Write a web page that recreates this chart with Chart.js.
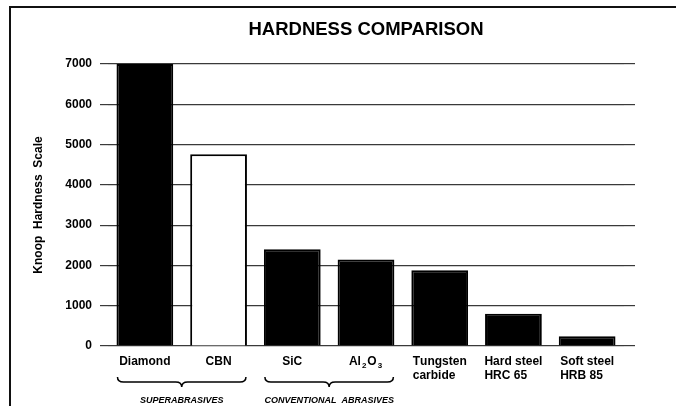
<!DOCTYPE html>
<html>
<head>
<meta charset="utf-8">
<script src="https://cdn.jsdelivr.net/npm/chart.js@4.4.1/dist/chart.umd.min.js"></script>
<style>
  html, body { margin: 0; padding: 0; background: #fff; }
  #wrap { width: 676px; height: 406px; }
</style>
</head>
<body>
<div id="wrap"><canvas id="c" width="676" height="406"></canvas></div>
<script>
// Knoop hardness of abrasives and tool materials
const categories = [
  ['Diamond'],
  ['CBN'],
  ['SiC'],
  ['Al₂O₃'],
  ['Tungsten', 'carbide'],
  ['Hard steel', 'HRC 65'],
  ['Soft steel', 'HRB 85']
];
const hardness = [7000, 4760, 2400, 2150, 1880, 800, 240];
const yTicks = [0, 1000, 2000, 3000, 4000, 5000, 6000, 7000];
const groupNames = ['SUPERABRASIVES', 'CONVENTIONAL  ABRASIVES'];
const groupMembers = [[0, 1], [2, 3]];

const FONT = "'Liberation Sans', Arial, Helvetica, sans-serif";
const GRID = '#3a3a3a';
const SUB = { '₀':'0','₁':'1','₂':'2','₃':'3','₄':'4','₅':'5','₆':'6','₇':'7','₈':'8','₉':'9' };

// Text with subscript digits drawn smaller and lowered
function richWidth(ctx, s) {
  let w = 0;
  for (const ch of s) {
    ctx.font = SUB[ch] ? `bold 8px ${FONT}` : `bold 12px ${FONT}`;
    w += ctx.measureText(SUB[ch] || ch).width + (SUB[ch] ? 2 : 0);
  }
  return w;
}
function drawRich(ctx, s, x, y) {
  for (const ch of s) {
    if (SUB[ch]) {
      ctx.font = `bold 8px ${FONT}`;
      x += 1;
      ctx.fillText(SUB[ch], x, y + 4);
      x += ctx.measureText(SUB[ch]).width + 1;
    } else {
      ctx.font = `bold 12px ${FONT}`;
      ctx.fillText(ch, x, y);
      x += ctx.measureText(ch).width;
    }
  }
}

const framePlugin = {
  id: 'frame',
  beforeDraw(chart) {
    const ctx = chart.ctx;
    ctx.save();
    ctx.fillStyle = '#fff';
    ctx.fillRect(0, 0, chart.width, chart.height);
    ctx.strokeStyle = '#111';
    ctx.lineWidth = 2;
    ctx.beginPath();
    ctx.moveTo(10, chart.height);
    ctx.lineTo(10, 7);
    ctx.lineTo(chart.width, 7);
    ctx.stroke();
    ctx.restore();
  }
};

const labelPlugin = {
  id: 'catLabels',
  afterDraw(chart) {
    const ctx = chart.ctx;
    const xs = chart.scales.x;
    const area = chart.chartArea;
    const meta = chart.getDatasetMeta(0);
    ctx.save();
    ctx.fillStyle = '#000';
    ctx.textBaseline = 'middle';
    ctx.textAlign = 'left';
    // category names: first line centred, following lines flush with it
    categories.forEach((lines, i) => {
      const cx = xs.getPixelForValue(i);
      const left = cx - richWidth(ctx, lines[0]) / 2;
      lines.forEach((line, k) => drawRich(ctx, line, left, area.bottom + 16 + k * 14));
    });
    // braces and group captions
    ctx.strokeStyle = '#000';
    ctx.lineWidth = 1.5;
    groupMembers.forEach((members, g) => {
      const a = meta.data[members[0]];
      const b = meta.data[members[members.length - 1]];
      const x1 = a.x - a.width / 2 + 1;
      const x2 = b.x + b.width / 2 - 1;
      const mid = (x1 + x2) / 2;
      const yT = area.bottom + 31, yM = yT + 5, yB = yT + 10, r = 6;
      ctx.beginPath();
      ctx.moveTo(x1, yT);
      ctx.quadraticCurveTo(x1, yM, x1 + r, yM);
      ctx.lineTo(mid - r, yM);
      ctx.quadraticCurveTo(mid, yM, mid, yB);
      ctx.quadraticCurveTo(mid, yM, mid + r, yM);
      ctx.lineTo(x2 - r, yM);
      ctx.quadraticCurveTo(x2, yM, x2, yT);
      ctx.stroke();
      ctx.font = `italic bold 9px ${FONT}`;
      ctx.textAlign = 'center';
      ctx.fillText(groupNames[g], mid, area.bottom + 55);
      ctx.textAlign = 'left';
    });
    ctx.restore();
  }
};

new Chart(document.getElementById('c'), {
  type: 'bar',
  data: {
    labels: categories,
    datasets: [{
      data: hardness,
      backgroundColor: ctx => ctx.dataIndex === 1 ? '#ffffff' : '#000000',
      borderColor: '#000000',
      borderWidth: 2,
      barPercentage: 0.77,
      categoryPercentage: 1
    }]
  },
  options: {
    responsive: false,
    animation: false,
    devicePixelRatio: 1,
    layout: { padding: { left: 12, right: 41, top: 0, bottom: 60 } },
    plugins: {
      legend: { display: false },
      tooltip: { enabled: false },
      title: {
        display: true,
        text: 'HARDNESS COMPARISON',
        fullSize: false,
        color: '#000',
        font: { family: FONT, size: 18.5, weight: 'bold' },
        padding: { top: 19, bottom: 22.8 }
      }
    },
    scales: {
      x: {
        grid: { display: false },
        border: { display: false },
        ticks: { display: false },
        afterFit: s => { s.height = 0; }
      },
      y: {
        min: 0,
        max: 7000,
        afterBuildTicks: s => { s.ticks = yTicks.map(v => ({ value: v })); },
        afterFit: s => { s.width = 96; },
        border: { display: false },
        grid: { color: GRID, lineWidth: 1.2, tickLength: 8 },
        ticks: {
          color: '#000',
          padding: 8,
          font: { family: FONT, size: 12, weight: 'bold' },
          callback: v => String(v)
        },
        title: {
          display: true,
          text: 'Knoop  Hardness  Scale',
          color: '#000',
          font: { family: FONT, size: 12, weight: 'bold' },
          padding: { top: 19, bottom: 0 }
        }
      },
      y2: {
        position: 'right',
        min: 0,
        max: 7000,
        afterBuildTicks: s => { s.ticks = yTicks.map(v => ({ value: v })); },
        afterFit: s => { s.width = 11; },
        border: { display: false },
        grid: { color: GRID, lineWidth: 1.2, tickLength: 11, drawOnChartArea: false },
        ticks: { display: false }
      }
    }
  },
  plugins: [framePlugin, labelPlugin]
});
</script>
</body>
</html>
